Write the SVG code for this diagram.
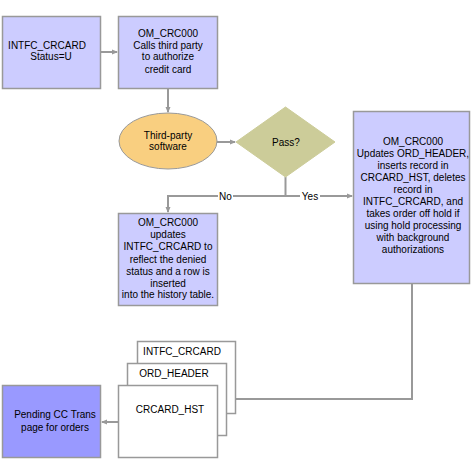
<svg xmlns="http://www.w3.org/2000/svg" width="472" height="475" viewBox="0 0 472 475">
<style>
.box{fill:#ccccff;stroke:#999999;stroke-width:1.5}
.doc{fill:#ffffff;stroke:#999999;stroke-width:1.5}
.ln{fill:none;stroke:#999999;stroke-width:2}
text{font-family:"Liberation Sans",Arial,sans-serif;font-size:10px;fill:#000;text-anchor:middle}
</style>
<defs>
<marker id="ah" markerWidth="6" markerHeight="6" refX="5" refY="3" orient="auto" markerUnits="userSpaceOnUse">
<path d="M0,0.5 L6,3 L0,5.5 Z" fill="#999999"/>
</marker>
</defs>
<rect x="0" y="0" width="472" height="475" fill="#ffffff"/>
<g id="connectors">
<line class="ln" x1="101" y1="52" x2="117" y2="52" marker-end="url(#ah)"/>
<line class="ln" x1="168" y1="88" x2="168" y2="112" marker-end="url(#ah)"/>
<line class="ln" x1="217" y1="142" x2="235" y2="142" marker-end="url(#ah)"/>
<polyline class="ln" points="285.5,177 285.5,196 168,196 168,212" marker-end="url(#ah)"/>
<line class="ln" x1="285.5" y1="196" x2="352" y2="196" marker-end="url(#ah)"/>
<polyline class="ln" points="412,283 412,399 228,399" marker-end="url(#ah)"/>
<line class="ln" x1="118" y1="422" x2="102" y2="422" marker-end="url(#ah)"/>
<rect x="218" y="190" width="15" height="12" fill="#ffffff"/>
<text x="225.5" y="200">No</text>
<rect x="300" y="190" width="20" height="12" fill="#ffffff"/>
<text x="310" y="200">Yes</text>
</g>
<g id="n1">
<rect class="box" x="2.5" y="16.5" width="98" height="72"/>
<text x="47" y="49">INTFC_CRCARD</text>
<text x="51" y="60">Status=U</text>
</g>
<g id="n2">
<rect class="box" x="118.5" y="16.5" width="99" height="72"/>
<text x="168" y="37">OM_CRC000</text>
<text x="168" y="49">Calls third party</text>
<text x="168" y="60">to authorize</text>
<text x="168" y="73">credit card</text>
</g>
<g id="n3">
<ellipse cx="168" cy="141" rx="49" ry="28" fill="#f9cf80" stroke="#999999" stroke-width="1"/>
<text x="168" y="139">Third-party</text>
<text x="168" y="150">software</text>
</g>
<g id="n4">
<polygon points="285.5,107 335,142 285.5,177 236,142" fill="#cccc99" stroke="#cccc99"/>
<text x="286" y="146">Pass?</text>
</g>
<g id="n5">
<rect class="box" x="353.5" y="111.5" width="116" height="172"/>
<text x="413" y="145">OM_CRC000</text>
<text x="413" y="157">Updates ORD_HEADER,</text>
<text x="413" y="169">inserts record in</text>
<text x="413" y="181">CRCARD_HST, deletes</text>
<text x="413" y="193">record in</text>
<text x="413" y="205">INTFC_CRCARD, and</text>
<text x="413" y="217">takes order off hold if</text>
<text x="413" y="229">using hold processing</text>
<text x="413" y="241">with background</text>
<text x="413" y="253">authorizations</text>
</g>
<g id="n6">
<rect class="box" x="118.5" y="213.5" width="99" height="92"/>
<text x="168" y="226">OM_CRC000</text>
<text x="168" y="238">updates</text>
<text x="168" y="250">INTFC_CRCARD to</text>
<text x="168" y="263">reflect the denied</text>
<text x="168" y="275">status and a row is</text>
<text x="168" y="287">inserted</text>
<text x="168" y="298">into the history table.</text>
</g>
<g id="n7">
<rect class="doc" x="137.5" y="341.5" width="98" height="72"/>
<text x="182" y="355">INTFC_CRCARD</text>
<rect class="doc" x="127.5" y="363.5" width="99" height="72"/>
<text x="174" y="377">ORD_HEADER</text>
<rect class="doc" x="118.5" y="385.5" width="99" height="72"/>
<text x="170" y="413">CRCARD_HST</text>
</g>
<g id="n8">
<rect x="2.5" y="385.5" width="98" height="72" fill="#9999ff" stroke="#999999" stroke-width="1.5"/>
<text x="55" y="418">Pending CC Trans</text>
<text x="55" y="431">page for orders</text>
</g>
</svg>
